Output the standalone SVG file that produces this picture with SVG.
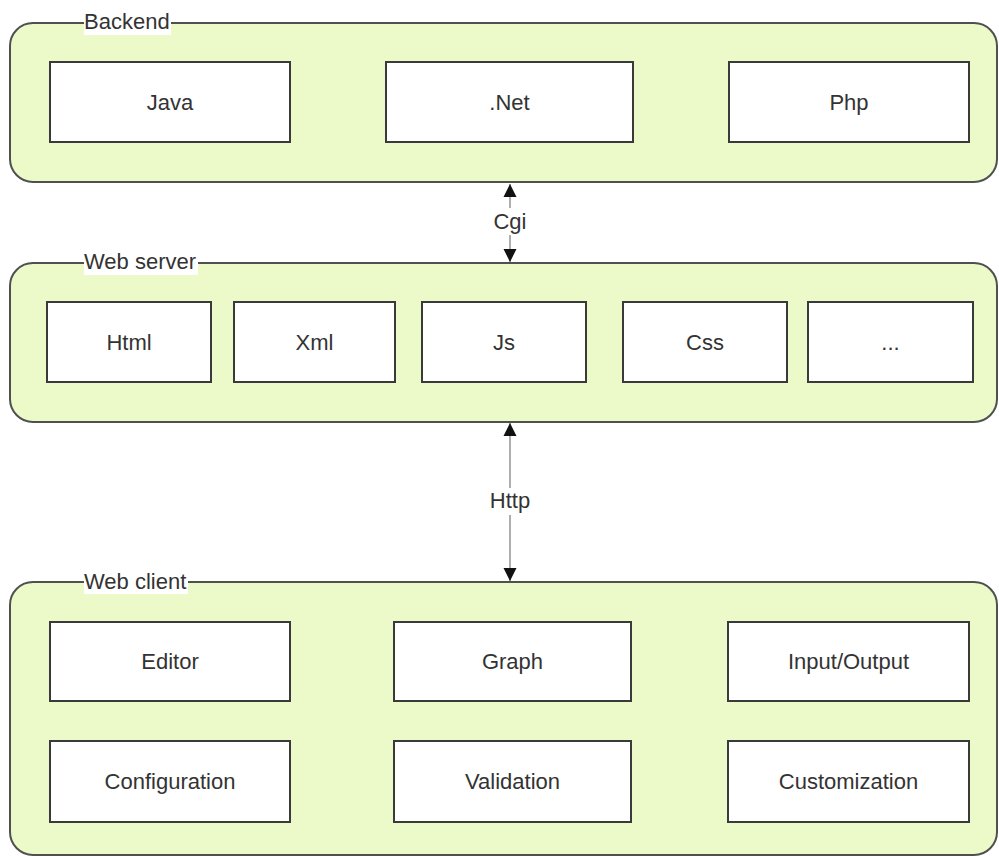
<svg xmlns="http://www.w3.org/2000/svg" width="999" height="856" viewBox="0 0 999 856">
<style>
.cont{fill:#ECF9C9;stroke:#505050;stroke-width:2}
.box{fill:#ffffff;stroke:#3a3a3a;stroke-width:2}
.t{font-family:"Liberation Sans",Arial,sans-serif;font-size:22px;fill:#333333;text-anchor:middle}
.lbl{font-family:"Liberation Sans",Arial,sans-serif;font-size:22px;fill:#333333}
.bg{fill:#ffffff}
.edge{stroke:#777777;stroke-width:1.2;fill:none}
</style>
<defs>
<marker id="ah" markerUnits="userSpaceOnUse" markerWidth="14" markerHeight="14" refX="13" refY="6.5" orient="auto-start-reverse" viewBox="0 0 14 13">
<path d="M0,0 L13,6.5 L0,13 Z" fill="#111111"/>
</marker>
</defs>
<g id="backend">
<rect class="cont" x="10" y="23" width="987" height="159" rx="23"/>
<rect class="bg" x="84" y="12" width="87" height="23"/>
<text class="lbl" x="84" y="29">Backend</text>
</g>
<g id="java"><rect class="box" x="50" y="62" width="240" height="80"/><text class="t" x="170" y="110">Java</text></g>
<g id="net"><rect class="box" x="386" y="62" width="247" height="80"/><text class="t" x="509.5" y="110">.Net</text></g>
<g id="php"><rect class="box" x="729" y="62" width="240" height="80"/><text class="t" x="849" y="110">Php</text></g>

<g id="webserver">
<rect class="cont" x="10" y="263" width="987" height="159" rx="23"/>
<rect class="bg" x="84" y="252" width="114" height="23"/>
<text class="lbl" x="84" y="269">Web server</text>
</g>
<g id="html"><rect class="box" x="47" y="302" width="164" height="80"/><text class="t" x="129" y="350">Html</text></g>
<g id="xml"><rect class="box" x="234" y="302" width="161" height="80"/><text class="t" x="314.5" y="350">Xml</text></g>
<g id="js"><rect class="box" x="422" y="302" width="164" height="80"/><text class="t" x="504" y="350">Js</text></g>
<g id="css"><rect class="box" x="623" y="302" width="164" height="80"/><text class="t" x="705" y="350">Css</text></g>
<g id="more"><rect class="box" x="808" y="302" width="165" height="80"/><text class="t" x="890.5" y="350">...</text></g>

<g id="webclient">
<rect class="cont" x="10" y="582" width="987" height="273" rx="23"/>
<rect class="bg" x="84" y="571" width="104" height="23"/>
<text class="lbl" x="84" y="589">Web client</text>
</g>
<g id="editor"><rect class="box" x="50" y="622" width="240" height="79"/><text class="t" x="170" y="669">Editor</text></g>
<g id="graph"><rect class="box" x="394" y="622" width="237" height="79"/><text class="t" x="512.5" y="669">Graph</text></g>
<g id="io"><rect class="box" x="728" y="622" width="241" height="79"/><text class="t" x="848.5" y="669">Input/Output</text></g>
<g id="configuration"><rect class="box" x="50" y="741" width="240" height="81"/><text class="t" x="170" y="789">Configuration</text></g>
<g id="validation"><rect class="box" x="394" y="741" width="237" height="81"/><text class="t" x="512.5" y="789">Validation</text></g>
<g id="customization"><rect class="box" x="728" y="741" width="241" height="81"/><text class="t" x="848.5" y="789">Customization</text></g>

<g id="connectors">
<line class="edge" x1="510" y1="184" x2="510" y2="262" marker-start="url(#ah)" marker-end="url(#ah)"/>
<rect class="bg" x="490" y="208" width="40" height="27"/>
<text class="t" x="510" y="229">Cgi</text>
<line class="edge" x1="510" y1="423" x2="510" y2="581" marker-start="url(#ah)" marker-end="url(#ah)"/>
<rect class="bg" x="486" y="488" width="48" height="27"/>
<text class="t" x="510" y="508">Http</text>
</g>
</svg>
